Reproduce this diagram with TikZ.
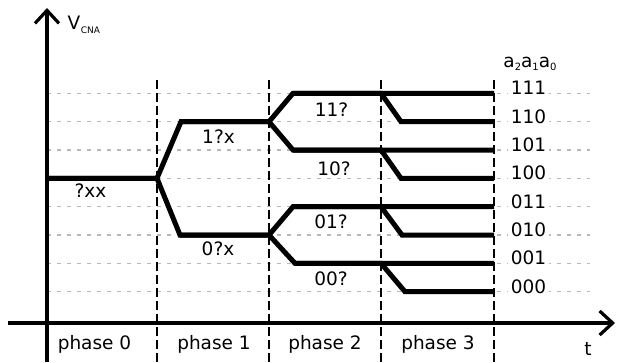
\documentclass[tikz,border=0pt]{standalone}
\usepackage{fontspec}
\setmainfont{DejaVu Sans}
\usetikzlibrary{arrows.meta}
\begin{document}
\begin{tikzpicture}[x=1pt,y=-1pt,
  levelgrid/.style={draw=black!28, line width=1.3pt, dash pattern=on 4pt off 6pt},
  phasesep/.style={draw=black, line width=1.2pt, dash pattern=on 8.5pt off 4.5pt},
  signal/.style={draw=black, line width=5pt, line join=miter},
  axis/.style={draw=black, line width=3.2pt, -{Straight Barb[length=13pt,width=24pt]}},
  lbl/.style={font=\fontsize{18.5}{20}\selectfont, inner sep=0pt, anchor=base},
  code/.style={lbl, fill=white, inner xsep=3pt, inner ysep=1pt}]
\useasboundingbox (0,0) rectangle (617,362);

% horizontal reference levels, one per output code
\foreach \yy in {93.3,121.7,150,178.3,206.7,235,263.3,291.7}
  \draw[levelgrid] (47,\yy) -- (590,\yy);

% phase boundaries
\foreach \xx/\nm in {157/p0,269/p1,381/p2,494/p3} {
  \coordinate (\nm top) at (\xx,80);
  \coordinate (\nm bot) at (\xx,362);
  \draw[phasesep] (\nm top) -- (\nm bot);
}

% converter output: successive approximation tree
\coordinate (s)   at (47,178.3);
\coordinate (b0)  at (157,178.3);
\coordinate (u1)  at (181,121.7);
\coordinate (b1u) at (269,121.7);
\coordinate (d1)  at (180,235);
\coordinate (b1d) at (269,235);
\coordinate (c11) at (293,93.3);
\coordinate (c10) at (293,150);
\coordinate (c01) at (293,206.7);
\coordinate (c00) at (295,263.3);
\coordinate (k11) at (381,93.3);
\coordinate (k10) at (381,150);
\coordinate (k01) at (381,206.7);
\coordinate (k00) at (381,263.3);
\coordinate (t110) at (401,121.7);
\coordinate (t100) at (401,178.3);
\coordinate (t010) at (402,235);
\coordinate (t000) at (405,291.7);
\coordinate (e111) at (494,93.3);
\coordinate (e110) at (494,121.7);
\coordinate (e101) at (494,150);
\coordinate (e100) at (494,178.3);
\coordinate (e011) at (494,206.7);
\coordinate (e010) at (494,235);
\coordinate (e001) at (494,263.3);
\coordinate (e000) at (494,291.7);

\draw[signal] (s) -- (b0) -- (u1) -- (b1u) -- (c11) -- (e111);
\draw[signal] (s) -- (b0) -- (d1) -- (b1d) -- (c00) -- (e001);
\draw[signal] (u1) -- (b1u) -- (c10) -- (e101);
\draw[signal] (d1) -- (b1d) -- (c01) -- (e011);
\draw[signal] (c11) -- (k11) -- (t110) -- (e110);
\draw[signal] (c10) -- (k10) -- (t100) -- (e100);
\draw[signal] (c01) -- (k01) -- (t010) -- (e010);
\draw[signal] (c00) -- (k00) -- (t000) -- (e000);

% partial codes
\node[lbl] (q0) at (90.5,197) {?xx};
\node[lbl] (q1) at (218.5,143) {1?x};
\node[lbl] (q2) at (218,255) {0?x};
\node[lbl] (q3) at (331.5,116) {11?};
\node[lbl] (q4) at (334,175) {10?};
\node[lbl] (q5) at (331,228) {01?};
\node[lbl] (q6) at (331,285) {00?};

% final codes
\node[code] (n111) at (528.5,94.8) {111};
\node[code] (n110) at (528.5,123.1) {110};
\node[code] (n101) at (528.5,151.4) {101};
\node[code] (n100) at (528.5,179.7) {100};
\node[code] (n011) at (528.5,208.1) {011};
\node[code] (n010) at (528.5,236.4) {010};
\node[code] (n001) at (528.5,264.7) {001};
\node[code] (n000) at (528.5,293.1) {000};
\node[lbl] (bits) at (530,67.3) {a\raisebox{-3.5pt}{\fontsize{10}{10}\selectfont 2}a\raisebox{-3.5pt}{\fontsize{10}{10}\selectfont 1}a\raisebox{-3.5pt}{\fontsize{10}{10}\selectfont 0}};

% phases
\node[lbl] (ph0) at (94.5,349) {phase 0};
\node[lbl] (ph1) at (214,349) {phase 1};
\node[lbl] (ph2) at (325,349) {phase 2};
\node[lbl] (ph3) at (438,349) {phase 3};

% axes
\coordinate (ybot) at (47,362);
\coordinate (ytop) at (47,8);
\coordinate (xleft) at (8,323);
\coordinate (xright) at (615,323);
\draw[axis] (ybot) -- (ytop);
\draw[axis] (xleft) -- (xright);
\node[lbl, anchor=base west] (vlab) at (67.5,29) {V\kern0.5pt\raisebox{-4pt}{\fontsize{9}{9}\selectfont CNA}};
\node[lbl] (tlab) at (588,355) {t};
\end{tikzpicture}
\end{document}
